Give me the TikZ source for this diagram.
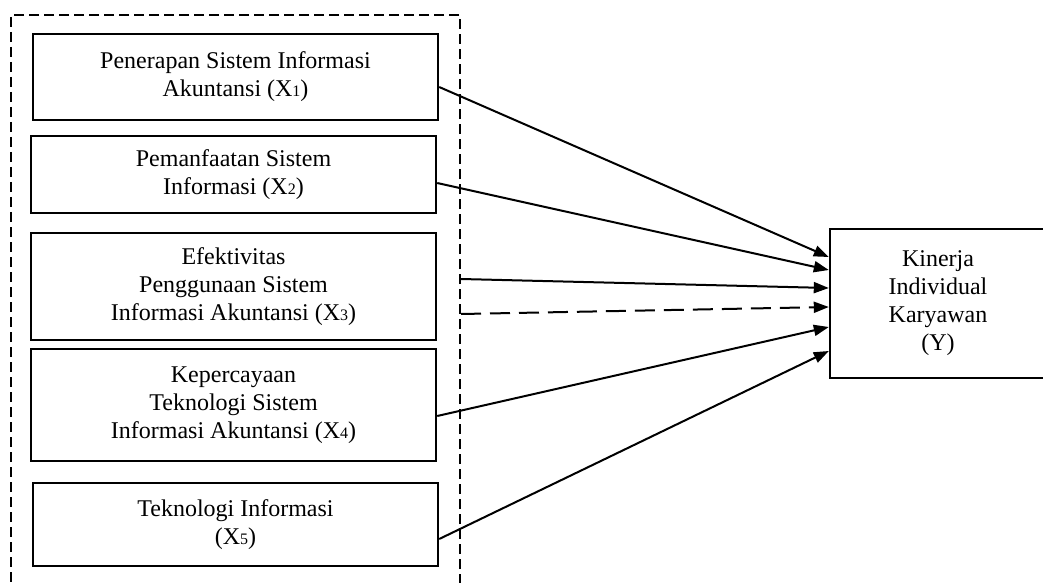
\documentclass[tikz,border=0pt]{standalone}
\usepackage{fontspec}
\setmainfont{Liberation Serif}
\usetikzlibrary{arrows.meta}

\newcommand{\xsub}[1]{{\fontsize{8}{8}\selectfont #1}}

\tikzset{
  var/.style={draw, line width=1.2pt, align=center, inner sep=0pt,
    minimum width=202.5pt, font=\fontsize{12}{14}\selectfont},
  group/.style={draw, dash pattern=on 5pt off 2.5pt, line width=1pt},
  link/.style={line width=1pt, -{Triangle[length=7.5pt,width=5.5pt]}},
}

\begin{document}
\begin{tikzpicture}[x=0.5pt,y=-0.5pt]
\useasboundingbox (0,0) rectangle (1043,583);
\path (235.5,307.5) node[group, minimum width=224.5pt, minimum height=292.5pt] (grp) {}
		(235.5,77) node[var, minimum height=43pt] (x1) {Penerapan Sistem Informasi\\Akuntansi (X\xsub{1})}
		(233.5,174.5) node[var, minimum height=38.5pt] (x2) {Pemanfaatan Sistem\\Informasi (X\xsub{2})}
		(233.5,286.5) node[var, minimum height=53.5pt] (x3) {Efektivitas\\Penggunaan Sistem\\Informasi Akuntansi (X\xsub{3})}
		(233.5,405) node[var, minimum height=56pt] (x4) {Kepercayaan\\Teknologi Sistem\\Informasi Akuntansi (X\xsub{4})}
		(235.5,524.5) node[var, minimum height=41.5pt] (x5) {Teknologi Informasi\\(X\xsub{5})}
		(938,303.5) node[var, minimum width=108pt, minimum height=74.5pt] (y) {Kinerja\\Individual\\Karyawan\\(Y)}
		;
\draw[link] ([yshift=-5pt]x1.east) -- ([yshift=23.25pt]y.west);
\draw[link] ([yshift=-4.25pt]x2.east) -- ([yshift=16.75pt]y.west);
\draw[link] ([yshift=14.25pt]grp.east) -- ([yshift=7.75pt]y.west);
\draw[link, dash pattern=on 10pt off 4.5pt] ([yshift=-3.25pt]grp.east) -- ([yshift=-1.75pt]y.west);
\draw[link] ([yshift=-5.5pt]x4.east) -- ([yshift=-11.75pt]y.west);
\draw[link] ([yshift=-7.25pt]x5.east) -- ([yshift=-23.75pt]y.west);
\end{tikzpicture}
\end{document}
